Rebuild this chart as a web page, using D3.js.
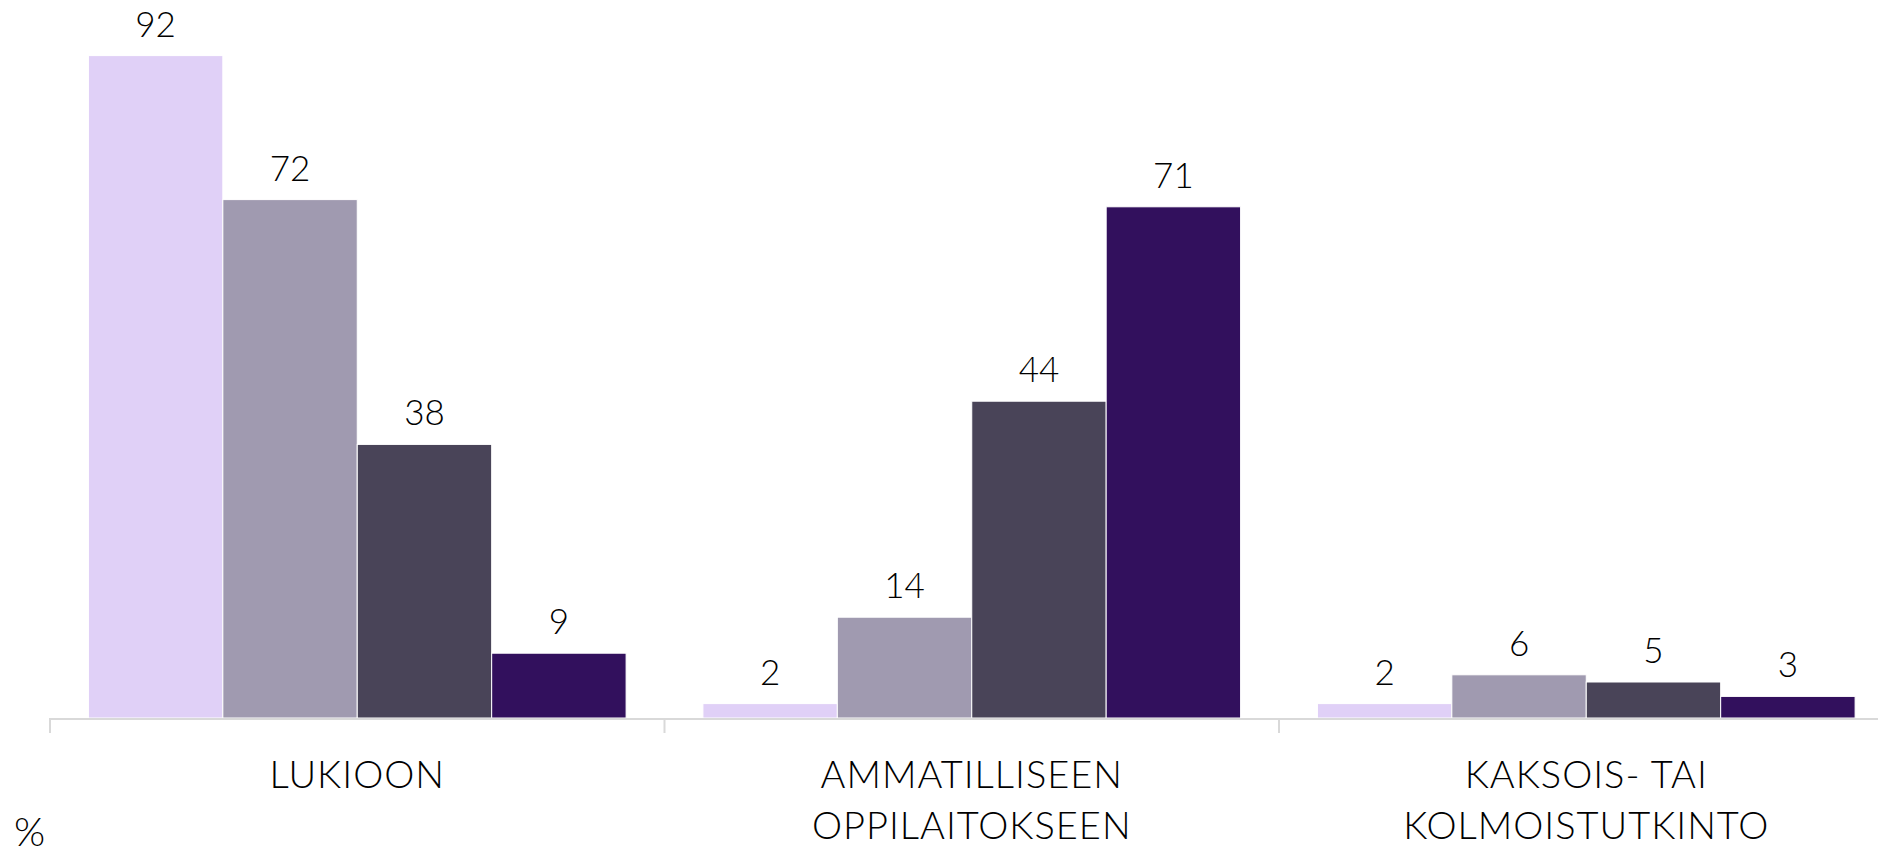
<!DOCTYPE html>
<html>
<head>
<meta charset="utf-8">
<script src="https://cdn.jsdelivr.net/npm/d3@7"></script>
<style>
  html, body { margin: 0; padding: 0; background: #ffffff; }
  svg { display: block; }
  text { font-family: "Lato", "Open Sans", sans-serif; font-weight: 300; fill: #000; }
</style>
</head>
<body>
<svg id="chart" width="1878" height="856"></svg>
<script>
// ---- data ----
const categories = [["LUKIOON"], ["AMMATILLISEEN", "OPPILAITOKSEEN"], ["KAKSOIS- TAI", "KOLMOISTUTKINTO"]];
const categoryKeys = ["LUKIOON", "AMMATILLISEEN OPPILAITOKSEEN", "KAKSOIS- TAI KOLMOISTUTKINTO"];
const seriesNames = ["Sarja 1", "Sarja 2", "Sarja 3", "Sarja 4"];
const seriesColors = ["#e0d0f7", "#a09ab0", "#494458", "#32105d"];
const series1 = [92, 2, 2];
const series2 = [72, 14, 6];
const series3 = [38, 44, 5];
const series4 = [9, 71, 3];
const seriesValues = [series1, series2, series3, series4];
const yUnitLabel = "%";

// ---- layout ----
const baseY = 718;
const svg = d3.select("#chart");

const x0 = d3.scaleBand()
  .domain(categoryKeys)
  .range([50, 1893.5])
  .paddingInner(0.125)
  .paddingOuter(0.0625);

const x1 = d3.scaleBand()
  .domain(seriesNames)
  .range([0, x0.bandwidth()])
  .padding(0);

const y = d3.scaleLinear().domain([0, 100]).range([baseY, -2]);

// bars
const groups = svg.append("g").selectAll("g")
  .data(categoryKeys)
  .join("g")
  .attr("transform", d => `translate(${x0(d)},0)`);

groups.each(function(cat, ci) {
  const g = d3.select(this);
  const rows = seriesNames.map((s, si) => ({ s, si, v: seriesValues[si][ci] }));
  g.selectAll("rect")
    .data(rows)
    .join("rect")
    .attr("x", d => x1(d.s))
    .attr("y", d => y(d.v))
    .attr("width", x1.bandwidth())
    .attr("height", d => baseY - y(d.v))
    .attr("fill", d => seriesColors[d.si])
    .attr("stroke", "#ffffff")
    .attr("stroke-width", 1);
  g.selectAll("text.val")
    .data(rows)
    .join("text")
    .attr("class", "val")
    .attr("x", d => x1(d.s) + x1.bandwidth() / 2)
    .attr("y", d => y(d.v) - 19)
    .attr("text-anchor", "middle")
    .style("font-size", "35px")
    .text(d => d.v);
});

// axis line and ticks
const step = x0.step();
const tickXs = categoryKeys.map(c => x0(c) - step * x0.paddingInner() / 2);
tickXs.push(tickXs[tickXs.length - 1] + step);

svg.append("line")
  .attr("x1", 50).attr("x2", 1893.5)
  .attr("y1", baseY + 1).attr("y2", baseY + 1)
  .attr("stroke", "#d9d9d9").attr("stroke-width", 2);

svg.append("g").selectAll("line")
  .data(tickXs)
  .join("line")
  .attr("x1", d => d).attr("x2", d => d)
  .attr("y1", baseY).attr("y2", baseY + 15)
  .attr("stroke", "#d9d9d9").attr("stroke-width", 2);

// category labels
svg.append("g").selectAll("text")
  .data(categoryKeys)
  .join("text")
  .attr("text-anchor", "middle")
  .style("font-size", "38px")
  .style("letter-spacing", "1px")
  .attr("transform", d => `translate(${x0(d) + x0.bandwidth() / 2},0)`)
  .each(function(d, i) {
    const t = d3.select(this);
    categories[i].forEach((line, li) => {
      t.append("tspan").attr("x", 0).attr("y", 788 + li * 51).text(line);
    });
  });

// unit label
svg.append("text")
  .attr("x", 14).attr("y", 846)
  .style("font-size", "40px")
  .text(yUnitLabel);
</script>
</body>
</html>
